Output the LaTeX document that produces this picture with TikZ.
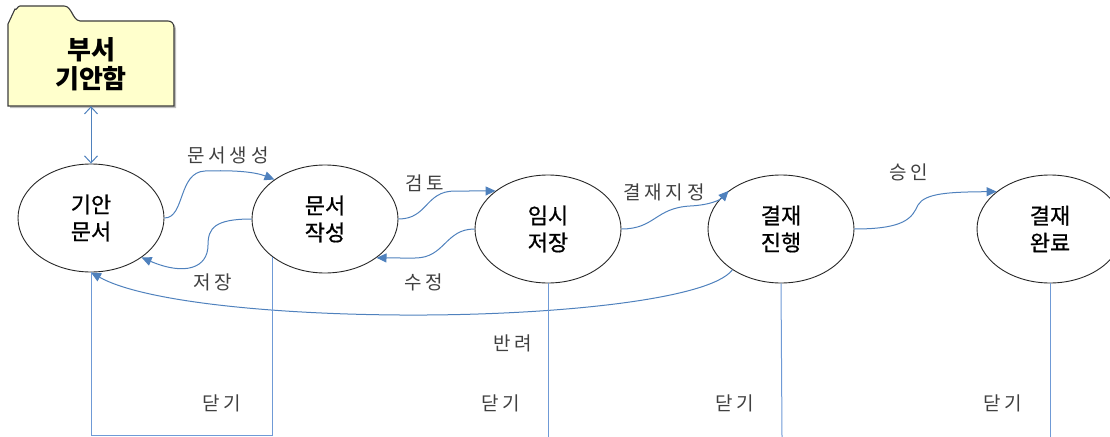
\documentclass[tikz,border=0pt]{standalone}
\usepackage{fontspec}
\setmainfont{Noto Sans CJK KR}
\newfontfamily\lblfont[LetterSpace=20]{Noto Sans CJK KR}
\newfontfamily\stfont[FakeBold=0.7]{Noto Sans CJK KR}
\usetikzlibrary{shapes.geometric,arrows.meta}
\definecolor{lnblue}{HTML}{4F81BD}
\definecolor{vblue}{HTML}{6F9AD6}
\definecolor{foldfill}{HTML}{FFFFCC}
\definecolor{foldline}{HTML}{3C3C3C}
\definecolor{lbl}{HTML}{404040}
\tikzset{
  state/.style={ellipse, draw=black!85, line width=0.9pt, minimum width=146pt,
    minimum height=108pt, inner sep=0pt, align=center,
    font={\fontsize{22}{27}\stfont}},
  flow/.style={draw=lnblue, line width=1pt, -{Triangle[length=10pt,width=9pt]}},
  vline/.style={draw=vblue, line width=1pt},
  lab/.style={text=lbl, inner sep=0pt, font={\fontsize{19}{22}\lblfont}},
  folderbox/.style={minimum width=166pt, minimum height=84pt, inner sep=0pt,
    align=center, font={\fontsize{26}{29}\selectfont\bfseries}},
}
\begin{document}
\begin{tikzpicture}[x=1pt,y=-1pt]
\useasboundingbox (0,0) rectangle (1110,436);
% folder shape (shadow, then body)
\fill[black!25]
  (10,108) -- (10,26) -- (17,11) to[out=-60,in=180] (22,8) -- (66,8)
  .. controls (74,8) and (74,22) .. (82,23) -- (170,23)
  .. controls (174,23) and (176,26) .. (176,30) -- (176,108) -- cycle;
\draw[foldline, fill=foldfill, line width=1.1pt]
  (8,106) -- (8,24) -- (15,9) to[out=-60,in=180] (20,6) -- (64,6)
  .. controls (72,6) and (72,20) .. (80,21) -- (168,21)
  .. controls (172,21) and (174,24) .. (174,28) -- (174,106) -- cycle;
\node[folderbox] (folder) at (91,64) {부서\\기안함};
% states
\node[state] (e1) at (91,218) {기안\\문서};
\node[state] (e2) at (325,219) {문서\\작성};
\node[state] (e3) at (548,229) {임시\\저장};
\node[state] (e4) at (781,229) {결재\\진행};
\node[state] (e5) at (1050,229) {결재\\완료};
% bottom coordinates
\coordinate (c1) at (91,435);
\coordinate (b3) at (548,437);
\coordinate (b4) at (782,437);
\coordinate (b5) at (1050,437);
% folder <-> e1
\draw[draw=lnblue, line width=1pt, {Straight Barb[length=7pt,width=13pt]}-{Straight Barb[length=7pt,width=13pt]}]
  (folder.south) -- (e1.north);
% flows
\draw[flow] (e1.east) .. controls (185,218) and (178,172) .. (205,171)
  .. controls (235,170) and (255,172) .. (e2.142);
\draw[flow] (e2.west) .. controls (215,219) and (208,228) .. (208,245)
  .. controls (208,268) and (185,276) .. (e1.-38);
\draw[flow] (e2.east) .. controls (428,219) and (425,191) .. (455,191)
  .. controls (470,191) and (480,191) .. (e3.144);
\draw[flow] (e3.west) .. controls (445,229) and (445,258) .. (415,258)
  .. controls (400,258) and (390,258) .. (e2.-37);
\draw[flow] (e3.east) .. controls (655,229) and (655,208) .. (690,206)
  .. controls (710,205) and (720,200) .. (e4.144);
\draw[flow] (e4.east) .. controls (905,229) and (912,218) .. (918,205)
  .. controls (925,193) and (950,192) .. (e5.145);
\draw[flow] (e4.220) .. controls (710,300) and (550,316) .. (400,315)
  .. controls (260,314) and (140,300) .. (e1.south);
% close lines
\draw[vline] (e2.216) |- (c1) -- (e1.south);
\draw[vline] (e3.south) -- (b3);
\draw[vline] (e4.south) -- (b4);
\draw[vline] (e5.south) -- (b5);
% labels
\node[lab] (l1) at (228,155) {문서생성};
\node[lab] (l2) at (213,282) {저장};
\node[lab] (l3) at (425,183) {검토};
\node[lab] (l4) at (424,282) {수정};
\node[lab] (l5) at (664,192) {결재지정};
\node[lab] (l6) at (909,172) {승인};
\node[lab] (l7) at (513,343) {반려};
\node[lab] (d1) at (222,403) {닫기};
\node[lab] (d2) at (501,403) {닫기};
\node[lab] (d3) at (735,403) {닫기};
\node[lab] (d4) at (1003,403) {닫기};
\end{tikzpicture}
\end{document}
